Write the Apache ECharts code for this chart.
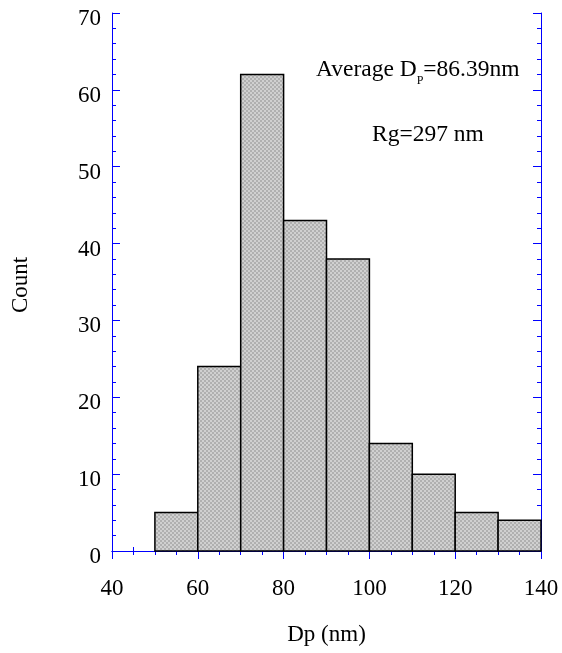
<!DOCTYPE html>
<html><head><meta charset="utf-8">
<script src="https://cdn.jsdelivr.net/npm/echarts@6/dist/echarts.min.js"></script>
<style>html,body{margin:0;padding:0;background:#fff}#c{width:562px;height:653px}</style>
</head><body><div id="c"></div>
<script>
const binStarts = [50, 60, 70, 80, 90, 100, 110, 120, 130];
const binWidth = 10;
const counts = [5, 24, 62, 43, 38, 14, 10, 5, 4];
const xTicks = [40, 60, 80, 100, 120, 140];
const yTicks = [0, 10, 20, 30, 40, 50, 60, 70];

const FONT = 'Liberation Serif';
const FS = 23;
const BLUE = '#0000ff';

// checker pattern for the bar fill
const pat = document.createElement('canvas');
pat.width = 4; pat.height = 4;
const pctx = pat.getContext('2d');
pctx.fillStyle = '#d0d0d0'; pctx.fillRect(0, 0, 4, 4);
pctx.fillStyle = '#b0b0b0';
pctx.fillRect(0, 0, 2, 2); pctx.fillRect(2, 2, 2, 2);

const chart = echarts.init(document.getElementById('c'), null, {renderer: 'canvas'});
const data = binStarts.map((s, i) => [s, s + binWidth, counts[i]]);

const axisCommon = {
  axisLine: {show: true, lineStyle: {color: BLUE, width: 1}},
  axisTick: {show: true, inside: true, length: 8, lineStyle: {color: BLUE, width: 1}},
  minorTick: {show: true, length: 4, lineStyle: {color: BLUE, width: 1}},
  splitLine: {show: false}
};

chart.setOption({
  animation: false,
  grid: {left: 112, right: 21, top: 13, bottom: 102, containLabel: false, outerBoundsMode: 'none'},
  xAxis: [
    Object.assign({}, axisCommon, {
      type: 'value', min: xTicks[0], max: xTicks[xTicks.length - 1], interval: 20,
      minorTick: Object.assign({}, axisCommon.minorTick, {splitNumber: 4}),
      axisLabel: {fontFamily: FONT, fontSize: FS, color: '#000', margin: 26},
      name: 'Dp (nm)', nameLocation: 'middle', nameGap: 72,
      nameTextStyle: {fontFamily: FONT, fontSize: FS, color: '#000'}
    }),
    Object.assign({}, axisCommon, {
      type: 'value', position: 'top', min: xTicks[0], max: xTicks[xTicks.length - 1], interval: 20,
      minorTick: Object.assign({}, axisCommon.minorTick, {splitNumber: 4}),
      axisLabel: {show: false}
    })
  ],
  yAxis: [
    Object.assign({}, axisCommon, {
      type: 'value', min: yTicks[0], max: yTicks[yTicks.length - 1], interval: 10,
      minorTick: Object.assign({}, axisCommon.minorTick, {splitNumber: 5}),
      axisLabel: {fontFamily: FONT, fontSize: FS, color: '#000', margin: 11,
                  verticalAlign: 'top', lineHeight: 12},
      name: 'Count', nameLocation: 'middle', nameGap: 80, nameRotate: 90,
      nameTextStyle: {fontFamily: FONT, fontSize: FS, color: '#000', padding: [0, 0, 0, -6]}
    }),
    Object.assign({}, axisCommon, {
      type: 'value', position: 'right', min: yTicks[0], max: yTicks[yTicks.length - 1], interval: 10,
      minorTick: Object.assign({}, axisCommon.minorTick, {splitNumber: 5}),
      axisLabel: {show: false}
    })
  ],
  series: [{
    type: 'custom',
    xAxisIndex: 0, yAxisIndex: 0,
    data: data,
    encode: {x: [0, 1], y: 2},
    renderItem: function (params, api) {
      const p0 = api.coord([api.value(0), api.value(2)]);
      const p1 = api.coord([api.value(1), 0]);
      return {
        type: 'rect',
        shape: {x: p0[0], y: p0[1], width: p1[0] - p0[0], height: p1[1] - p0[1]},
        style: {fill: {image: pat, repeat: 'repeat'}, stroke: '#000', lineWidth: 1.5}
      };
    },
    z: 1
  }],
  graphic: [
    {type: 'text', left: 316, top: 58, z: 10,
     style: {text: 'Average D{sub|P}=86.39nm', fontFamily: FONT, fontSize: 23.5, fill: '#000',
       rich: {sub: {fontFamily: FONT, fontSize: 12, padding: [21, 0, 0, 0]}}}},
    {type: 'text', left: 372, top: 123, z: 10,
     style: {text: 'Rg=297 nm', fontFamily: FONT, fontSize: 23.5, fill: '#000'}}
  ]
});
</script></body></html>
